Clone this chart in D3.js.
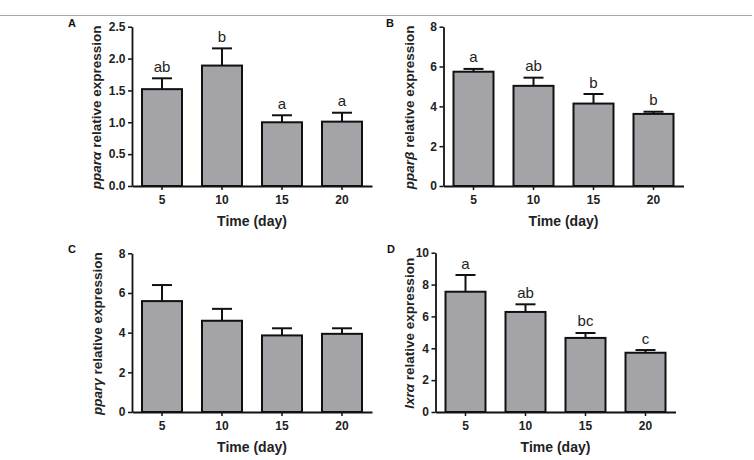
<!DOCTYPE html>
<html>
<head>
<meta charset="utf-8">
<script src="https://cdn.jsdelivr.net/npm/d3@7"></script>
<style>
  html, body { margin: 0; padding: 0; background: #ffffff; }
  svg { display: block; }
  text { font-family: "Liberation Sans", Arial, Helvetica, sans-serif; }
</style>
</head>
<body>
<svg id="chart" width="754" height="460"></svg>
<script>
// ---------- data ----------
const days = ["5", "10", "15", "20"];

const pparAlphaMean = [1.52, 1.89, 1.00, 1.01];
const pparAlphaSem  = [0.17, 0.27, 0.11, 0.14];
const pparAlphaSig  = ["ab", "b", "a", "a"];
const pparAlphaTicks = [0, 0.5, 1.0, 1.5, 2.0, 2.5];

const pparBetaMean = [5.74, 5.03, 4.14, 3.62];
const pparBetaSem  = [0.14, 0.41, 0.48, 0.11];
const pparBetaSig  = ["a", "ab", "b", "b"];
const pparBetaTicks = [0, 2, 4, 6, 8];

const pparGammaMean = [5.59, 4.60, 3.86, 3.94];
const pparGammaSem  = [0.81, 0.60, 0.36, 0.28];
const pparGammaSig  = ["", "", "", ""];
const pparGammaTicks = [0, 2, 4, 6, 8];

const lxrAlphaMean = [7.55, 6.28, 4.65, 3.72];
const lxrAlphaSem  = [1.05, 0.48, 0.31, 0.17];
const lxrAlphaSig  = ["a", "ab", "bc", "c"];
const lxrAlphaTicks = [0, 2, 4, 6, 8, 10];

const panelLetters = ["A", "B", "C", "D"];
const geneNames = ["ppar\u03B1", "ppar\u03B2", "ppar\u03B3", "lxr\u03B1"];
const xTitle = "Time (day)";
const yTitleRest = " relative expression";

// ---------- layout ----------
const panels = [
  { letter: panelLetters[0], gene: geneNames[0], mean: pparAlphaMean, sem: pparAlphaSem, sig: pparAlphaSig, ticks: pparAlphaTicks, fmt: d3.format(".1f"),
    x0: 132, x1: 372, yTop: 26.7, yBot: 186, letterX: 68, letterY: 27, yLabX: 101 },
  { letter: panelLetters[1], gene: geneNames[1], mean: pparBetaMean, sem: pparBetaSem, sig: pparBetaSig, ticks: pparBetaTicks, fmt: d3.format("d"),
    x0: 443.5, x1: 683.5, yTop: 26.7, yBot: 186, letterX: 386, letterY: 27, yLabX: 414 },
  { letter: panelLetters[2], gene: geneNames[2], mean: pparGammaMean, sem: pparGammaSem, sig: pparGammaSig, ticks: pparGammaTicks, fmt: d3.format("d"),
    x0: 132, x1: 372, yTop: 253.3, yBot: 412, letterX: 68, letterY: 253, yLabX: 102 },
  { letter: panelLetters[3], gene: geneNames[3], mean: lxrAlphaMean, sem: lxrAlphaSem, sig: lxrAlphaSig, ticks: lxrAlphaTicks, fmt: d3.format("d"),
    x0: 435.5, x1: 675.5, yTop: 252.7, yBot: 412, letterX: 387, letterY: 253, yLabX: 414 }
];

const svg = d3.select("#chart");

// top rule
svg.append("line")
  .attr("x1", 0).attr("x2", 752)
  .attr("y1", 15.5).attr("y2", 15.5)
  .attr("stroke", "#a8a8a8").attr("stroke-width", 1);

panels.forEach(p => {
  const g = svg.append("g");
  const x = d3.scaleBand().domain(days).range([p.x0, p.x1])
    .paddingInner(1 / 3).paddingOuter(1 / 6);
  const yMax = p.ticks[p.ticks.length - 1];
  const y = d3.scaleLinear().domain([0, yMax]).range([p.yBot, p.yTop]);

  const rows = days.map((d, i) => ({ day: d, mean: p.mean[i], sem: p.sem[i], sig: p.sig[i] }));

  // bars
  g.selectAll("rect.bar").data(rows).join("rect")
    .attr("class", "bar")
    .attr("x", d => x(d.day))
    .attr("width", x.bandwidth())
    .attr("y", d => y(d.mean))
    .attr("height", d => y(0) - y(d.mean))
    .attr("fill", "#a4a4a8")
    .attr("stroke", "#111")
    .attr("stroke-width", 2);

  // error bars (upper only)
  const capHalf = x.bandwidth() / 4;
  g.selectAll("line.err").data(rows).join("line")
    .attr("class", "err")
    .attr("x1", d => x(d.day) + x.bandwidth() / 2)
    .attr("x2", d => x(d.day) + x.bandwidth() / 2)
    .attr("y1", d => y(d.mean))
    .attr("y2", d => y(d.mean + d.sem))
    .attr("stroke", "#111").attr("stroke-width", 2);
  g.selectAll("line.cap").data(rows).join("line")
    .attr("class", "cap")
    .attr("x1", d => x(d.day) + x.bandwidth() / 2 - capHalf)
    .attr("x2", d => x(d.day) + x.bandwidth() / 2 + capHalf)
    .attr("y1", d => y(d.mean + d.sem))
    .attr("y2", d => y(d.mean + d.sem))
    .attr("stroke", "#111").attr("stroke-width", 2);

  // significance letters
  g.selectAll("text.sig").data(rows.filter(d => d.sig)).join("text")
    .attr("class", "sig")
    .attr("x", d => x(d.day) + x.bandwidth() / 2)
    .attr("y", d => y(d.mean + d.sem) - 6.5)
    .attr("text-anchor", "middle")
    .attr("font-size", 15)
    .attr("fill", "#222")
    .text(d => d.sig);

  // y axis
  const yAxis = g.append("g")
    .attr("transform", `translate(${p.x0},0)`)
    .call(d3.axisLeft(y).tickValues(p.ticks).tickFormat(p.fmt).tickSize(4).tickPadding(2.5).tickSizeOuter(0));
  // x axis
  const xAxis = g.append("g")
    .attr("transform", `translate(0,${p.yBot})`)
    .call(d3.axisBottom(x).tickSize(4).tickPadding(5).tickSizeOuter(0));

  [yAxis, xAxis].forEach(a => {
    a.attr("font-size", 12).attr("font-family", "\"Liberation Sans\", Arial, sans-serif");
    a.select(".domain").attr("stroke", "#111").attr("stroke-width", 1.8);
    a.selectAll(".tick line").attr("stroke", "#111").attr("stroke-width", 1.5);
    a.selectAll(".tick text")
      .attr("font-size", 12).attr("font-weight", "bold").attr("fill", "#222");
  });

  // x title, centred on the x axis
  g.append("text")
    .attr("x", (p.x0 + p.x1) / 2)
    .attr("y", p.yBot + 39.5)
    .attr("text-anchor", "middle")
    .attr("font-size", 14).attr("font-weight", "bold").attr("fill", "#222")
    .text(xTitle);

  // y title
  const yt = g.append("text")
    .attr("transform", `translate(${p.yLabX},${(p.yTop + p.yBot) / 2 + 1}) rotate(-90)`)
    .attr("text-anchor", "middle")
    .attr("font-size", 13.5).attr("font-weight", "bold").attr("fill", "#222");
  yt.append("tspan").attr("font-style", "italic").text(p.gene);
  yt.append("tspan").text(yTitleRest);

  // panel letter
  g.append("text")
    .attr("x", p.letterX).attr("y", p.letterY)
    .attr("font-size", 11).attr("font-weight", "bold").attr("fill", "#111")
    .text(p.letter);
});
</script>
</body>
</html>
